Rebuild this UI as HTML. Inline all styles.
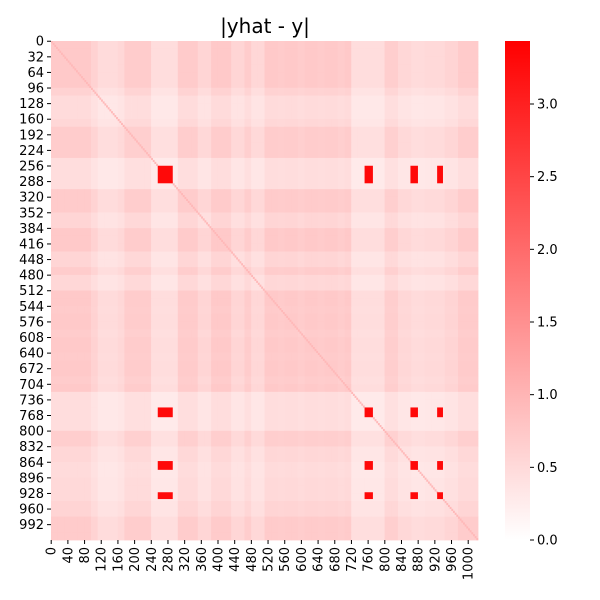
<!DOCTYPE html>
<html><head><meta charset="utf-8">
<style>
html,body{margin:0;padding:0;background:#fff;}
svg{display:block;font-family:"DejaVu Sans","Liberation Sans",sans-serif;}
</style></head>
<body>
<svg id="chart" width="600" height="600" viewBox="0 0 600 600">
<text x="265" y="33" font-size="20" text-anchor="middle">|yhat - y|</text>
<g id="cells"></g>
<g id="diag"></g>
<g id="hot"></g>
<g id="yaxis"></g>
<g id="xaxis"></g>
<defs><linearGradient id="cbg" x1="0" y1="1" x2="0" y2="0"><stop offset="0" stop-color="#ffffff"/><stop offset="1" stop-color="#ff0000"/></linearGradient></defs>
<rect x="505" y="41" width="25" height="499" fill="url(#cbg)"/>
<g id="cbaxis"></g>
</svg>
<script>
// data
const N = 1024;
const segSize = 16;
const profile = [1,1,1,1,1,1,0.7,0.45,0.45,0.45,0.55,0.9,0.9,0.9,0.9,0.4,0.4,0.4,0.4,0.95,0.95,0.95,0.6,0.6,1,1,1,0.6,0.6,0.9,0.55,0.55,
1,1,0.95,1,1,0.9,1,1,0.95,1,1,0.9,1,0.4,0.4,0.4,0.4,0.4,0.85,0.85,0.55,0.55,0.45,0.45,0.5,0.5,0.5,0.65,0.65,0.95,0.95,0.95];
const hotRanges = [[256,292],[752,772],[862,880],[926,940]];
const hotValue = 3.3;
const diagValue = 0.95;
const diagStep = 4;
const baseValue = 0.72;
const vmax = 3.42;
const cbTicks = [0.0,0.5,1.0,1.5,2.0,2.5,3.0];
const yTicks = Array.from({length:32},(_,i)=>i*32);
const xTicks = Array.from({length:26},(_,i)=>i*40);

const X0=51,X1=478,Y0=41,Y1=540;
const sx = i => X0 + i*(X1-X0)/N;
const sy = i => Y0 + i*(Y1-Y0)/N;
const cy = v => 540 - v*(436/3);
const col = v => {const t=Math.min(1,Math.max(0,v/vmax));const c=Math.round(255*(1-t));return `rgb(255,${c},${c})`;};
const NS="http://www.w3.org/2000/svg";
function mk(tag,attrs,parent){const e=document.createElementNS(NS,tag);for(const k in attrs)e.setAttribute(k,attrs[k]);parent.appendChild(e);return e;}

const cells=document.getElementById('cells');
const M=profile.length;
for(let i=0;i<M;i++){for(let j=0;j<M;j++){
  const v = baseValue*Math.sqrt(profile[i]*profile[j]);
  const r=mk('rect',{x:sx(j*segSize).toFixed(2),y:sy(i*segSize).toFixed(2),width:(sx(segSize)-X0+0.4).toFixed(2),height:(sy(segSize)-Y0+0.4).toFixed(2),fill:col(v)},cells);
  
  
}}
const diag=document.getElementById('diag');
for(let k=0;k<N;k+=diagStep){
  const r=mk('rect',{x:sx(k).toFixed(2),y:sy(k).toFixed(2),width:(sx(diagStep)-X0+0.2).toFixed(2),height:(sy(diagStep)-Y0+0.2).toFixed(2),fill:col(diagValue)},diag);
  
  
}
const hot=document.getElementById('hot');
hotRanges.forEach(a=>hotRanges.forEach(b=>{
  const r=mk('rect',{x:sx(b[0]),y:sy(a[0]),width:sx(b[1])-sx(b[0]),height:sy(a[1])-sy(a[0]),fill:col(hotValue)},hot);
  
  
}));

const ya=document.getElementById('yaxis');
yTicks.forEach(t=>{
  const y=sy(t+0.5);
  mk('line',{x1:X0-4,x2:X0,y1:y,y2:y,stroke:'#000','stroke-width':1},ya);
  const tx=mk('text',{x:X0-7,y:y+4.5,'font-size':13,'text-anchor':'end'},ya);
  tx.textContent=t;
  
  
});
const xa=document.getElementById('xaxis');
xTicks.forEach(t=>{
  const x=sx(t+0.5);
  mk('line',{x1:x,x2:x,y1:Y1,y2:Y1+4,stroke:'#000','stroke-width':1},xa);
  const tx=mk('text',{x:0,y:0,'font-size':13,'text-anchor':'end',transform:`translate(${x+4.5},${Y1+7}) rotate(-90)`},xa);
  tx.textContent=t;
  
  
});
const cba=document.getElementById('cbaxis');
cbTicks.forEach(t=>{
  const y=cy(t);
  mk('line',{x1:530,x2:534,y1:y,y2:y,stroke:'#000','stroke-width':1},cba);
  const tx=mk('text',{x:537,y:y+4.5,'font-size':13},cba);
  tx.textContent=t.toFixed(1);
  
  
});
</script>
</body></html>
